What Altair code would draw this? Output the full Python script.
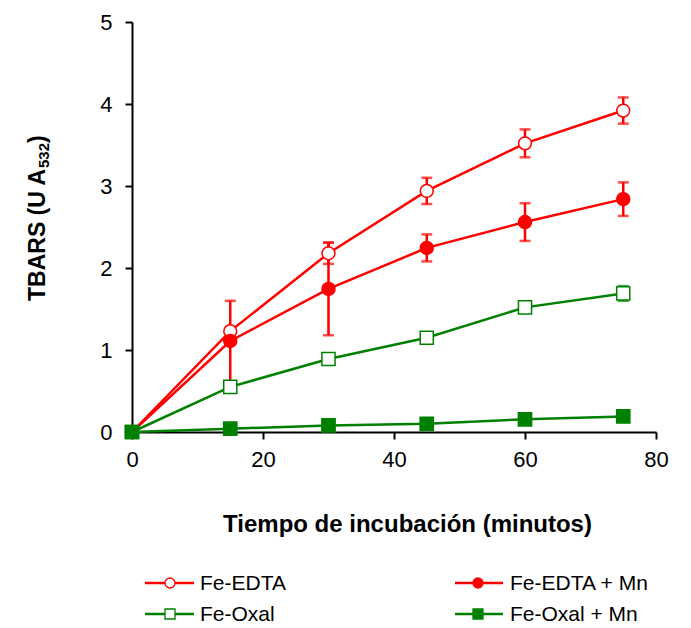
import altair as alt
import pandas as pd

# Incubation time (minutes)
minutes = [0, 15, 30, 45, 60, 75]

# TBARS (A532) per condition, with error (+/-)
fe_edta = [0.0, 1.23, 2.18, 2.94, 3.52, 3.92]
fe_edta_err = [0.0, 0.0, 0.13, 0.16, 0.17, 0.16]

fe_edta_mn = [0.0, 1.11, 1.745, 2.245, 2.56, 2.84]
fe_edta_mn_err = [0.0, 0.49, 0.565, 0.165, 0.23, 0.205]

fe_oxal = [0.0, 0.55, 0.89, 1.15, 1.52, 1.69]
fe_oxal_err = [0.0, 0.0, 0.0, 0.0, 0.0, 0.09]

fe_oxal_mn = [0.0, 0.04, 0.08, 0.10, 0.155, 0.19]
fe_oxal_mn_err = [0.0, 0.0, 0.0, 0.0, 0.0, 0.0]

series = ["Fe-EDTA", "Fe-EDTA + Mn", "Fe-Oxal", "Fe-Oxal + Mn"]
x_ticks = [0, 20, 40, 60, 80]
y_ticks = [0, 1, 2, 3, 4, 5]

RED = "#ff0000"
GREEN = "#008000"
FONT = "Liberation Sans"

line_colors = [RED, RED, GREEN, GREEN]
fill_colors = ["white", RED, "white", GREEN]
shapes = ["circle", "circle", "square", "square"]
sizes = [165, 175, 180, 195]

rows = []
for name, vals, errs in zip(
    series,
    [fe_edta, fe_edta_mn, fe_oxal, fe_oxal_mn],
    [fe_edta_err, fe_edta_mn_err, fe_oxal_err, fe_oxal_mn_err],
):
    for t, v, e in zip(minutes, vals, errs):
        rows.append({"series": name, "t": t, "value": v, "err": e,
                     "lo": v - e, "hi": v + e})
df = pd.DataFrame(rows)
df_err = df[df["err"] > 0]

W, H = 524, 410
PAD = {"left": 132, "top": 22, "right": 35, "bottom": 196}

x_enc = alt.X("t:Q", scale=alt.Scale(domain=[0, 80], nice=False),
              axis=alt.Axis(values=x_ticks, format="d", labelFlush=False,
                            title="Tiempo de incubación (minutos)",
                            titleX=W / 2 + 13, titleY=92, titleBaseline="middle",
                            titleAlign="center", labelPadding=10))
y_scale = alt.Scale(domain=[0, 5], nice=False)
y_axis = alt.Axis(values=y_ticks, format="d", labelFlush=False, title=None,
                  labelPadding=13)

color_scale = alt.Scale(domain=series, range=line_colors)

base = alt.Chart(df)

err_rule = alt.Chart(df_err).mark_rule(strokeWidth=2.5).encode(
    x=x_enc,
    y=alt.Y("lo:Q", scale=y_scale, axis=y_axis),
    y2="hi:Q",
    color=alt.Color("series:N", scale=color_scale, legend=None),
)
err_cap_hi = alt.Chart(df_err).mark_tick(orient="horizontal", size=11, thickness=2.5).encode(
    x="t:Q",
    y=alt.Y("hi:Q", scale=y_scale),
    color=alt.Color("series:N", scale=color_scale, legend=None),
)
err_cap_lo = alt.Chart(df_err).mark_tick(orient="horizontal", size=11, thickness=2.5).encode(
    x="t:Q",
    y=alt.Y("lo:Q", scale=y_scale),
    color=alt.Color("series:N", scale=color_scale, legend=None),
)

lines = base.mark_line(strokeWidth=2.5).encode(
    x="t:Q",
    y=alt.Y("value:Q", scale=y_scale),
    color=alt.Color("series:N", scale=color_scale, legend=None),
    detail="series:N",
)

points = base.mark_point(filled=True, opacity=1, strokeWidth=1.5).encode(
    x="t:Q",
    y=alt.Y("value:Q", scale=y_scale),
    fill=alt.Fill("series:N", scale=alt.Scale(domain=series, range=fill_colors), legend=None),
    stroke=alt.Stroke("series:N", scale=alt.Scale(domain=series, range=line_colors), legend=None),
    shape=alt.Shape("series:N", scale=alt.Scale(domain=series, range=shapes), legend=None),
    size=alt.Size("series:N", scale=alt.Scale(domain=series, range=sizes), legend=None),
)

# Legend below the plot: two columns, two rows (pixel offsets from plot origin)
one = pd.DataFrame({"k": [0]})
legend_layers = []
col_line = [(13, 62), (323, 371)]
col_marker = [38, 346]
col_text = [68, 378]
row_y = [561, 592]
for i, name in enumerate(series):
    c, r = i % 2, i // 2
    x0, x1 = col_line[c]
    yy = row_y[r]
    legend_layers.append(
        alt.Chart(one).mark_rule(strokeWidth=2.5, color=line_colors[i]).encode(
            x=alt.value(x0), x2=alt.value(x1), y=alt.value(yy))
    )
    legend_layers.append(
        alt.Chart(one).mark_point(
            shape=shapes[i], filled=True, fill=fill_colors[i], stroke=line_colors[i],
            strokeWidth=1.3, size=100, opacity=1,
        ).encode(x=alt.value(col_marker[c]), y=alt.value(yy))
    )
    legend_layers.append(
        alt.Chart(one).mark_text(
            text=name, align="left", baseline="middle", font=FONT,
            fontSize=21, color="black",
        ).encode(x=alt.value(col_text[c]), y=alt.value(yy + 1))
    )

# Y-axis title with subscript, drawn as rotated text pieces
ytitle_x = -94
ytitle = [
    alt.Chart(one).mark_text(text="TBARS (U A", angle=270, align="left", baseline="middle",
                             font=FONT, fontSize=23, fontWeight="bold", color="black")
    .encode(x=alt.value(ytitle_x), y=alt.value(279)),
    alt.Chart(one).mark_text(text="532", angle=270, align="left", baseline="middle",
                             font=FONT, fontSize=15, fontWeight="bold", color="black")
    .encode(x=alt.value(ytitle_x + 6), y=alt.value(146)),
    alt.Chart(one).mark_text(text=")", angle=270, align="left", baseline="middle",
                             font=FONT, fontSize=23, fontWeight="bold", color="black")
    .encode(x=alt.value(ytitle_x), y=alt.value(121)),
]

chart = alt.layer(
    err_rule, err_cap_hi, err_cap_lo, lines, points, *legend_layers, *ytitle
).properties(
    width=W, height=H,
    autosize=alt.AutoSizeParams(type="none"),
    padding=PAD,
    background="white",
).configure_view(
    stroke=None
).configure_axis(
    grid=False,
    domainColor="black",
    domainWidth=2,
    tickColor="black",
    tickWidth=2,
    tickSize=7,
    labelFont=FONT,
    labelFontSize=22,
    labelColor="black",
    titleFont=FONT,
    titleFontSize=24,
    titleFontWeight="bold",
    titleColor="black",
)

chart.save("out.html", embed_options={"renderer": "svg", "actions": False})
